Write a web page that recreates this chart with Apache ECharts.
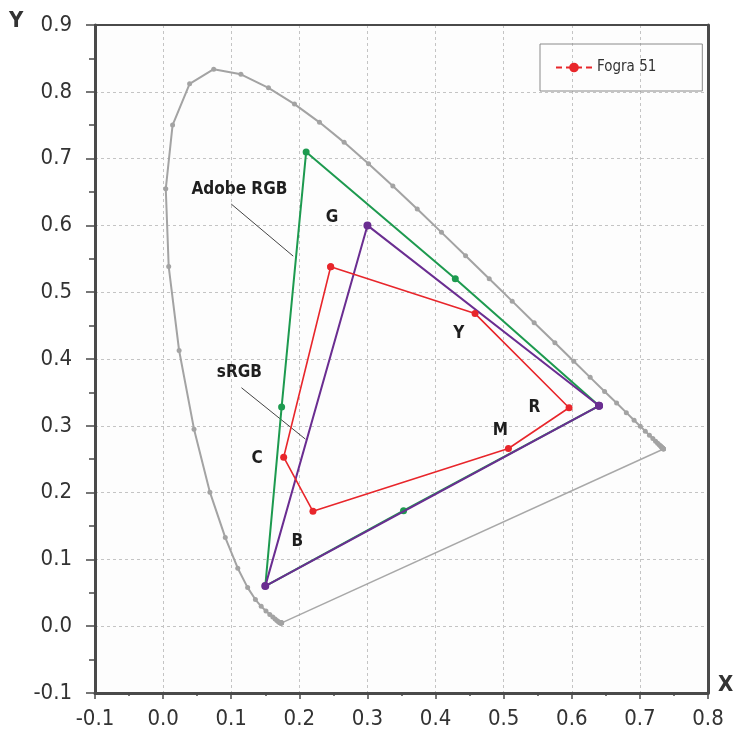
<!DOCTYPE html>
<html><head><meta charset="utf-8">
<script src="https://cdn.jsdelivr.net/npm/echarts@6/dist/echarts.min.js"></script>
<style>html,body{margin:0;padding:0;background:#fff}#c{width:734px;height:738px}</style>
</head><body><div id="c"></div>
<script>
// CIE 1931 spectral locus, 380-700 nm at 5 nm steps
const locusX = [0.1741,0.1740,0.1738,0.1736,0.1733,0.1730,0.1726,0.1721,0.1714,0.1703,0.1689,0.1669,0.1644,0.1611,0.1566,0.1510,0.1440,0.1355,0.1241,0.1096,0.0913,0.0687,0.0454,0.0235,0.0082,0.0039,0.0139,0.0389,0.0743,0.1142,0.1547,0.1929,0.2296,0.2658,0.3016,0.3373,0.3731,0.4087,0.4441,0.4788,0.5125,0.5448,0.5752,0.6029,0.6270,0.6482,0.6658,0.6801,0.6915,0.7006,0.7079,0.7140,0.7190,0.7230,0.7260,0.7283,0.7300,0.7311,0.7320,0.7327,0.7334,0.7340,0.7344,0.7346,0.7347];
const locusY = [0.0050,0.0050,0.0049,0.0049,0.0048,0.0048,0.0048,0.0048,0.0051,0.0058,0.0069,0.0086,0.0109,0.0138,0.0177,0.0227,0.0297,0.0399,0.0578,0.0868,0.1327,0.2007,0.2950,0.4127,0.5384,0.6548,0.7502,0.8120,0.8338,0.8262,0.8059,0.7816,0.7543,0.7243,0.6923,0.6589,0.6245,0.5896,0.5547,0.5202,0.4866,0.4544,0.4242,0.3965,0.3725,0.3514,0.3340,0.3197,0.3083,0.2993,0.2920,0.2859,0.2809,0.2770,0.2740,0.2717,0.2700,0.2689,0.2680,0.2673,0.2666,0.2660,0.2656,0.2654,0.2653];

// Adobe RGB: R, Y, G, C, B, M
const adobeX = [0.64, 0.429, 0.21, 0.174, 0.15, 0.353];
const adobeY = [0.33, 0.520, 0.71, 0.328, 0.06, 0.173];
// sRGB: R, G, B
const srgbX = [0.64, 0.30, 0.15];
const srgbY = [0.33, 0.60, 0.06];
// Fogra 51: G, Y, R, M, B, C
const fograX = [0.246, 0.458, 0.596, 0.507, 0.220, 0.177];
const fograY = [0.538, 0.468, 0.327, 0.266, 0.172, 0.253];

// annotations
const labelTexts = ['Adobe RGB','G','sRGB','C','B','Y','M','R'];
const labelX = [0.112, 0.248, 0.112, 0.138, 0.197, 0.434, 0.495, 0.545];
const labelY = [0.654, 0.612, 0.380, 0.251, 0.127, 0.438, 0.293, 0.327];
const leaderX = [[0.100, 0.191], [0.115, 0.209]];
const leaderY = [[0.632, 0.554], [0.357, 0.280]];

const zip = (a, b) => a.map((v, i) => [v, b[i]]);
const closed = (a) => a.concat([a[0]]);

const FONT = '"Liberation Sans Narrow","DejaVu Sans Condensed",sans-serif';
const AX = '#4a4a4a';
const chart = echarts.init(document.getElementById('c'), null, {renderer: 'canvas'});

const leaderSeries = leaderX.map((xs, i) => ({
  type: 'line', name: 'leader' + i, silent: true, symbol: 'none',
  data: zip(xs, leaderY[i]),
  lineStyle: {color: '#444', width: 1}, z: 3
}));

chart.setOption({
  animation: false,
  backgroundColor: '#fff',
  grid: {left: 95, right: 26, top: 25, bottom: 45, show: true, backgroundColor: '#fdfdfd', borderWidth: 0},
  legend: {
    data: [{name: 'Fogra 51'}],
    left: 540, top: 44, width: 147,
    padding: [16, 46, 16, 15],
    itemWidth: 36, itemHeight: 12, itemGap: 8,
    borderColor: '#8a8a8a', borderWidth: 1,
    textStyle: {fontFamily: FONT, fontSize: 15, color: '#333'},
    lineStyle: {type: [6, 4]}
  },
  xAxis: [{
    type: 'value', min: -0.1, max: 0.8, interval: 0.1,
    axisLine: {show: true, onZero: false, lineStyle: {color: AX, width: 3}},
    axisTick: {show: true, length: 6, lineStyle: {color: AX, width: 1.5}},
    minorTick: {show: true, splitNumber: 2, length: 3, lineStyle: {color: AX, width: 1.5}},
    axisLabel: {margin: 15, fontFamily: FONT, fontSize: 22, color: '#333', formatter: v => v.toFixed(1)},
    splitLine: {show: true, lineStyle: {color: '#c4c4c4', type: [3, 3], width: 1}}
  }, {
    type: 'value', position: 'top', min: -0.1, max: 0.8,
    axisLine: {show: true, onZero: false, lineStyle: {color: AX, width: 2}},
    axisTick: {show: false}, axisLabel: {show: false}, splitLine: {show: false}
  }],
  yAxis: [{
    type: 'value', min: -0.1, max: 0.9, interval: 0.1,
    axisLine: {show: true, onZero: false, lineStyle: {color: AX, width: 3}},
    axisTick: {show: true, length: 9, lineStyle: {color: AX, width: 1.5}},
    minorTick: {show: true, splitNumber: 2, length: 6, lineStyle: {color: AX, width: 1.5}},
    axisLabel: {margin: 23, fontFamily: FONT, fontSize: 22, color: '#333', formatter: v => v.toFixed(1)},
    splitLine: {show: true, lineStyle: {color: '#c4c4c4', type: [3, 3], width: 1}}
  }, {
    type: 'value', position: 'right', min: -0.1, max: 0.9,
    axisLine: {show: true, onZero: false, lineStyle: {color: AX, width: 3}},
    axisTick: {show: false}, axisLabel: {show: false}, splitLine: {show: false}
  }],
  graphic: [
    {type: 'text', left: 9, top: 10, style: {text: 'Y', font: 'bold 22px ' + FONT, fill: '#333'}},
    {type: 'text', left: 718, top: 674, style: {text: 'X', font: 'bold 22px ' + FONT, fill: '#333'}}
  ],
  series: [
    {
      type: 'line', name: 'spectral', data: zip(locusX, locusY),
      symbol: 'circle', symbolSize: 5, showAllSymbol: true,
      itemStyle: {color: '#a3a3a3'}, lineStyle: {color: '#a3a3a3', width: 2}, z: 2
    },
    {
      type: 'line', name: 'purple-line', symbol: 'none',
      data: [[locusX[locusX.length - 1], locusY[locusY.length - 1]], [locusX[0], locusY[0]]],
      lineStyle: {color: '#a8a8a8', width: 1.5}, z: 2
    },
    ...leaderSeries,
    {
      type: 'line', name: 'Adobe RGB', data: closed(zip(adobeX, adobeY)),
      symbol: 'circle', symbolSize: 7, showAllSymbol: true,
      itemStyle: {color: '#1d9a4f'}, lineStyle: {color: '#1d9a4f', width: 2}, z: 4
    },
    {
      type: 'line', name: 'sRGB', data: closed(zip(srgbX, srgbY)),
      symbol: 'circle', symbolSize: 8, showAllSymbol: true,
      itemStyle: {color: '#6a2d91'}, lineStyle: {color: '#6a2d91', width: 2}, z: 5
    },
    {
      type: 'line', name: 'Fogra 51', data: closed(zip(fograX, fograY)),
      symbol: 'circle', symbolSize: 7, showAllSymbol: true,
      itemStyle: {color: '#e8262b'}, lineStyle: {color: '#e8262b', width: 1.6}, z: 6
    },
    {
      type: 'scatter', name: 'labels', silent: true, symbolSize: 1,
      itemStyle: {opacity: 1, color: 'rgba(0,0,0,0)'},
      data: labelTexts.map((t, i) => ({name: t, value: [labelX[i], labelY[i]]})),
      label: {show: true, position: 'inside', formatter: p => p.name,
        fontFamily: '"DejaVu Sans Condensed",sans-serif', fontWeight: 'bold', fontSize: 17, color: '#1e1e1e'},
      z: 7
    }
  ]
});
</script></body></html>
